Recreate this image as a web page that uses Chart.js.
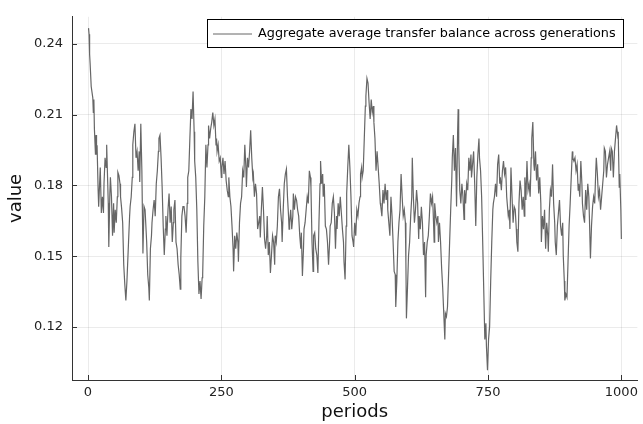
<!DOCTYPE html>
<html><head><meta charset="utf-8">
<script src="https://cdn.jsdelivr.net/npm/chart.js@4.4.1/dist/chart.umd.min.js"></script>
<style>html,body{margin:0;padding:0;background:#fff}#wrap{width:643px;height:424px}</style>
</head><body><div id="wrap"><canvas id="c" width="643" height="424"></canvas></div>
<script>
const seriesLabel = 'Aggregate average transfer balance across generations';
const xTicks = [0, 250, 500, 750, 1000];
const yTicks = [0.12, 0.15, 0.18, 0.21, 0.24];
const periods = [
1,2,3,4,6,9,10,11,12,14,15,16,17,19,20,21,23,25,27,29,30,32,34,35,37,38,39,41,42,44,46,48,49,51,53,55,56,58,60,61,63,65,67,69,71,73,76,78,79,81,83,84,86,88,90,92,94,96,97,99,101,103,105,107,
110,112,114,115,117,119,120,122,124,126,128,130,132,133,135,137,139,141,143,145,146,148,150,152,154,156,158,160,161,163,165,167,169,171,173,174,176,178,180,182,184,186,187,189,191,193,195,197,199,200,202,204,206,208,210,212,214,215,217,219,221,223,225,226,228,230,232,234,236,238,240,241,
242,244,246,248,250,251,253,255,257,259,261,263,264,266,268,270,272,273,275,277,279,281,282,284,286,288,290,292,294,296,297,299,301,303,305,307,309,310,312,314,316,318,320,322,323,325,327,329,331,333,335,336,338,340,342,344,346,348,350,351,353,355,357,359,361,363,364,366,368,370,372,374,376,377,
378,380,382,384,385,387,389,391,393,395,397,399,400,402,404,405,407,409,411,413,415,417,418,420,422,423,425,427,429,431,433,435,436,438,440,441,443,445,447,449,451,453,454,456,458,460,462,464,466,467,469,471,473,475,477,479,480,482,484,485,487,489,491,493,495,497,498,500,502,504,506,508,510,511,513,
514,516,518,520,521,523,525,527,529,531,533,535,536,538,540,542,544,546,548,549,551,553,555,557,559,561,562,564,566,568,570,572,574,576,577,579,581,583,585,587,589,591,593,595,596,597,599,601,603,605,607,608,610,612,614,616,618,620,621,623,625,627,629,631,633,634,636,638,640,642,644,646,647,649,
650,652,654,656,657,659,661,663,665,667,669,670,672,674,676,678,680,682,683,685,687,689,691,693,694,695,697,699,701,703,705,706,708,710,712,714,716,718,719,721,723,725,727,729,731,733,734,736,738,740,742,744,746,747,749,751,753,755,757,759,760,762,764,766,768,770,772,773,775,777,779,781,783,785,
786,788,790,791,793,795,797,799,801,803,804,806,808,810,812,814,816,818,819,821,823,825,827,829,831,832,834,836,837,839,841,843,845,847,849,850,852,854,856,858,860,862,863,865,867,869,871,873,875,876,878,880,882,884,886,888,890,891,893,894,896,898,900,902,904,906,908,909,911,913,915,917,919,920,
922,924,926,927,929,931,933,935,937,939,940,942,944,946,948,950,952,953,955,957,959,961,963,965,967,968,970,972,974,976,978,980,981,983,985,987,989,991,993,994,996,997,999,1000
];
const values = [
0.2466,0.2440,0.2356,0.2315,0.2219,0.2171,0.2109,0.2164,0.2040,0.1930,0.2013,0.1930,0.1970,0.1780,0.1710,0.1766,0.1876,0.1683,0.1752,0.1683,0.1807,0.1917,0.1876,0.1972,0.1807,0.1724,0.1539,0.1766,0.1834,0.1752,0.1587,0.1724,0.1600,0.1697,0.1642,0.1752,0.1855,0.1841,0.1807,0.1752,0.1704,0.1642,0.1464,0.1381,0.1313,0.1395,0.1560,0.1670,0.1711,0.1752,0.1834,0.1972,0.2027,0.2061,0.1917,0.1944,0.1862,0.1944,0.1814,0.2061,0.1862,0.1512,0.1711,0.1697,
0.1560,0.1422,0.1367,0.1313,0.1532,0.1587,0.1642,0.1697,0.1738,0.1670,0.1807,0.1862,0.1944,0.1999,0.2013,0.1917,0.1793,0.1628,0.1505,0.1615,0.1670,0.1587,0.1697,0.1766,0.1642,0.1711,0.1560,0.1642,0.1697,0.1738,0.1560,0.1532,0.1464,0.1422,0.1361,0.1491,0.1670,0.1710,0.1710,0.1670,0.1600,0.1724,0.1834,0.1862,0.1999,0.2123,0.2081,0.2198,0.2027,0.1903,0.1834,0.1697,0.1477,0.1340,0.1395,0.1319,0.1409,0.1422,0.1628,0.1752,0.1972,0.1876,0.1972,0.2054,0.1999,0.2040,0.2068,0.2109,0.2054,0.2081,0.1972,0.1999,
0.1944,0.1972,0.1903,0.1917,0.1834,0.1876,0.1917,0.1848,0.1903,0.1821,0.1780,0.1752,0.1834,0.1752,0.1711,0.1628,0.1532,0.1436,0.1587,0.1532,0.1600,0.1560,0.1477,0.1642,0.1724,0.1752,0.1862,0.1834,0.1972,0.1876,0.1793,0.1917,0.1876,0.1944,0.2033,0.1917,0.1834,0.1848,0.1752,0.1807,0.1766,0.1615,0.1642,0.1670,0.1580,0.1697,0.1793,0.1697,0.1573,0.1532,0.1587,0.1670,0.1505,0.1560,0.1429,0.1505,0.1587,0.1560,0.1464,0.1587,0.1560,0.1628,0.1752,0.1786,0.1697,0.1642,0.1560,0.1697,0.1807,0.1848,0.1869,0.1752,0.1670,0.1615,
0.1642,0.1697,0.1615,0.1670,0.1766,0.1697,0.1752,0.1738,0.1697,0.1670,0.1587,0.1532,0.1600,0.1416,0.1532,0.1615,0.1642,0.1697,0.1752,0.1724,0.1862,0.1834,0.1793,0.1560,0.1436,0.1587,0.1600,0.1532,0.1505,0.1429,0.1642,0.1807,0.1903,0.1807,0.1848,0.1752,0.1807,0.1628,0.1615,0.1560,0.1464,0.1560,0.1628,0.1642,0.1724,0.1752,0.1683,0.1532,0.1670,0.1615,0.1724,0.1670,0.1752,0.1683,0.1615,0.1560,0.1477,0.1402,0.1628,0.1766,0.1876,0.1972,0.1876,0.1752,0.1587,0.1560,0.1539,0.1642,0.1587,0.1697,0.1670,0.1724,0.1752,0.1848,0.1876,
0.1834,0.1862,0.1999,0.2136,0.2178,0.2253,0.2233,0.2150,0.2081,0.2164,0.2109,0.2136,0.2068,0.1999,0.1862,0.1944,0.1876,0.1807,0.1724,0.1710,0.1670,0.1780,0.1724,0.1807,0.1738,0.1780,0.1697,0.1642,0.1587,0.1752,0.1670,0.1560,0.1436,0.1422,0.1285,0.1395,0.1560,0.1642,0.1697,0.1848,0.1752,0.1670,0.1697,0.1642,0.1477,0.1237,0.1367,0.1505,0.1560,0.1670,0.1752,0.1917,0.1752,0.1642,0.1697,0.1780,0.1724,0.1573,0.1670,0.1615,0.1710,0.1642,0.1505,0.1560,0.1326,0.1505,0.1560,0.1587,0.1670,0.1766,0.1724,0.1752,0.1697,0.1560,
0.1724,0.1670,0.1642,0.1670,0.1560,0.1642,0.1560,0.1450,0.1367,0.1258,0.1148,0.1258,0.1244,0.1285,0.1422,0.1560,0.1697,0.1821,0.1917,0.2013,0.1862,0.1958,0.1711,0.2027,0.2123,0.1972,0.1780,0.1724,0.1807,0.1752,0.1656,0.1780,0.1724,0.1807,0.1780,0.1917,0.1862,0.1931,0.1834,0.1889,0.1944,0.1807,0.1628,0.1834,0.1931,0.1999,0.1917,0.1862,0.1752,0.1560,0.1354,0.1148,0.1216,0.1120,0.1017,0.1148,0.1203,0.1395,0.1560,0.1697,0.1724,0.1752,0.1807,0.1752,0.1889,0.1931,0.1807,0.1834,0.1780,0.1862,0.1903,0.1848,0.1876,0.1752,
0.1724,0.1670,0.1697,0.1615,0.1876,0.1752,0.1642,0.1710,0.1697,0.1615,0.1560,0.1519,0.1724,0.1821,0.1780,0.1697,0.1752,0.1670,0.1834,0.1738,0.1903,0.1780,0.1807,0.1752,0.1917,0.1999,0.2068,0.1889,0.1862,0.1944,0.1821,0.1889,0.1766,0.1834,0.1724,0.1560,0.1670,0.1615,0.1697,0.1532,0.1642,0.1587,0.1519,0.1697,0.1780,0.1752,0.1889,0.1724,0.1642,0.1560,0.1505,0.1628,0.1683,0.1738,0.1628,0.1587,0.1642,0.1505,0.1395,0.1313,0.1340,0.1326,0.1477,0.1628,0.1724,0.1834,0.1944,0.1917,0.1903,0.1917,0.1862,0.1889,0.1780,0.1807,
0.1752,0.1903,0.1807,0.1724,0.1670,0.1642,0.1780,0.1697,0.1807,0.1752,0.1670,0.1491,0.1628,0.1710,0.1752,0.1724,0.1862,0.1917,0.1848,0.1752,0.1780,0.1697,0.1752,0.1807,0.1862,0.1958,0.1944,0.1834,0.1889,0.1917,0.1944,0.1862,0.1958,0.1944,0.1834,0.1944,0.1999,0.2054,0.2013,0.2027,0.1793,0.1848,0.1697,0.1573
];

const FONT = '"DejaVu Sans", sans-serif';
const points = periods.map((p, i) => ({x: p, y: values[i]}));

const innerTicks = {
  id: 'innerTicks',
  afterDatasetsDraw(chart) {
    const ctx = chart.ctx, a = chart.chartArea;
    const xs = chart.scales.x, ys = chart.scales.y;
    ctx.save();
    ctx.strokeStyle = '#333';
    ctx.lineWidth = 1;
    ctx.beginPath();
    xTicks.forEach(v => { const px = Math.round(xs.getPixelForValue(v)) + 0.5; ctx.moveTo(px, a.bottom); ctx.lineTo(px, a.bottom - 5); });
    yTicks.forEach(v => { const py = Math.round(ys.getPixelForValue(v)) + 0.5; ctx.moveTo(a.left, py); ctx.lineTo(a.left + 5, py); });
    ctx.stroke();
    ctx.restore();
  }
};

const boxLegend = {
  id: 'boxLegend',
  afterDraw(chart) {
    const ctx = chart.ctx;
    ctx.save();
    const L = 207.5, T = 19.5, R = 623.5, B = 47.5;
    ctx.fillStyle = '#fff';
    ctx.fillRect(L, T, R - L, B - T);
    ctx.strokeStyle = '#000';
    ctx.lineWidth = 1;
    ctx.strokeRect(L, T, R - L, B - T);
    ctx.strokeStyle = '#666';
    ctx.beginPath(); ctx.moveTo(213, 34); ctx.lineTo(252, 34); ctx.stroke();
    ctx.fillStyle = '#000';
    ctx.font = '12.8px ' + FONT;
    ctx.textBaseline = 'middle';
    ctx.textAlign = 'left';
    ctx.fillText(seriesLabel, 258, 34);
    ctx.restore();
  }
};

new Chart(document.getElementById('c'), {
  type: 'line',
  data: { datasets: [{ label: seriesLabel, data: points, borderColor: '#666', borderWidth: 1.2, pointRadius: 0, tension: 0, fill: false }] },
  options: {
    responsive: false, animation: false, devicePixelRatio: 1,
    layout: { padding: { top: 6, right: 3, left: 0, bottom: 0 } },
    plugins: { legend: { display: false }, tooltip: { enabled: false } },
    scales: {
      x: {
        type: 'linear', min: -30, max: 1030,
        afterBuildTicks: s => { s.ticks = xTicks.map(v => ({ value: v })); },
        afterFit: s => { s.height = 44; },
        ticks: { color: '#222', font: { family: FONT, size: 13 }, padding: 5, maxRotation: 0, autoSkip: false, callback: v => String(v) },
        grid: { color: 'rgba(0,0,0,0.08)', drawTicks: false },
        border: { color: '#333', width: 1 },
        title: { display: true, text: 'periods', color: '#111', font: { family: FONT, size: 18 }, padding: { top: 0, bottom: 1 } }
      },
      y: {
        type: 'linear', min: 0.0976, max: 0.2514,
        afterBuildTicks: s => { s.ticks = yTicks.map(v => ({ value: v })); },
        afterFit: s => { s.width = 72; },
        ticks: { color: '#222', font: { family: FONT, size: 13 }, padding: 9, callback: v => v.toFixed(2) },
        grid: { color: 'rgba(0,0,0,0.08)', drawTicks: false },
        border: { color: '#333', width: 1 },
        title: { display: true, text: 'value', color: '#111', font: { family: FONT, size: 18 }, padding: { top: 6, bottom: 0 } }
      }
    }
  },
  plugins: [innerTicks, boxLegend]
});
</script>
</body></html>
